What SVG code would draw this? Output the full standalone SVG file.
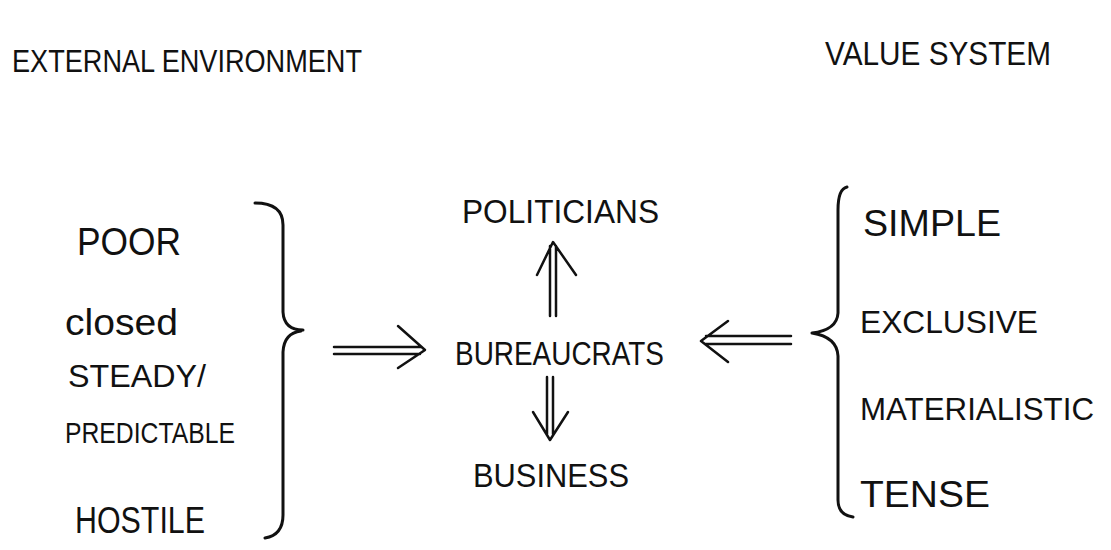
<svg xmlns="http://www.w3.org/2000/svg" width="1111" height="550" viewBox="0 0 1111 550">
  <style>
    .t { font-family: "Liberation Sans", "DejaVu Sans", sans-serif; fill: #111; }
    .br { fill: none; stroke: #111; stroke-width: 3; stroke-linecap: round; stroke-linejoin: round; }
    .ar { fill: none; stroke: #111; stroke-width: 2.5; stroke-linecap: round; stroke-linejoin: round; }
  </style>
  <rect width="1111" height="550" fill="#ffffff"/>

  <g id="title-env">
    <text class="t" x="12" y="72" font-size="32" textLength="350" lengthAdjust="spacingAndGlyphs">EXTERNAL ENVIRONMENT</text>
  </g>
  <g id="title-values">
    <text class="t" x="825" y="65" font-size="34" textLength="226" lengthAdjust="spacingAndGlyphs">VALUE SYSTEM</text>
  </g>

  <g id="env-list">
    <text class="t" x="77" y="255" font-size="38" textLength="104" lengthAdjust="spacingAndGlyphs">POOR</text>
    <text class="t" x="65" y="335" font-size="36" textLength="113" lengthAdjust="spacingAndGlyphs">closed</text>
    <text class="t" x="68" y="387" font-size="32" textLength="138" lengthAdjust="spacingAndGlyphs">STEADY/</text>
    <text class="t" x="65" y="443" font-size="30" textLength="170" lengthAdjust="spacingAndGlyphs">PREDICTABLE</text>
    <text class="t" x="75" y="533" font-size="36" textLength="130" lengthAdjust="spacingAndGlyphs">HOSTILE</text>
    <path class="br" d="M255,203 Q283,203 283,225 L283,312 Q284,330 303,330 M301,331 Q284,333 283,352 L283,515 Q283,535 265,538"/>
  </g>

  <g id="values-list">
    <text class="t" x="863" y="236" font-size="36" textLength="138" lengthAdjust="spacingAndGlyphs">SIMPLE</text>
    <text class="t" x="860" y="333" font-size="32" textLength="178" lengthAdjust="spacingAndGlyphs">EXCLUSIVE</text>
    <text class="t" x="860" y="420" font-size="31" textLength="234" lengthAdjust="spacingAndGlyphs">MATERIALISTIC</text>
    <text class="t" x="860" y="507" font-size="36" textLength="130" lengthAdjust="spacingAndGlyphs">TENSE</text>
    <path class="br" d="M847,187 Q838,189 838,210 L838,313 Q837,330 812,333 Q837,337 838,356 L838,500 Q838,515 853,517"/>
  </g>

  <g id="politicians">
    <text class="t" x="462" y="223" font-size="34" textLength="197" lengthAdjust="spacingAndGlyphs">POLITICIANS</text>
  </g>
  <g id="bureaucrats">
    <text class="t" x="455" y="365" font-size="34" textLength="209" lengthAdjust="spacingAndGlyphs">BUREAUCRATS</text>
  </g>
  <g id="business">
    <text class="t" x="473" y="487" font-size="34" textLength="156" lengthAdjust="spacingAndGlyphs">BUSINESS</text>
  </g>

  <g id="connectors">
    <path class="ar" d="M334,347 L420,347 M334,354 L420,354 M398,326 L425,350 L398,368"/>
    <path class="ar" d="M706,336 L791,336 M706,344 L791,344 M728,321 L701,341 L728,362"/>
    <path class="ar" d="M550,246 L550,316 M556,246 L556,316 M537,275 L553,242 L576,275"/>
    <path class="ar" d="M547,377 L547,434 M553,377 L553,434 M533,412 L550,440 L568,412"/>
  </g>
</svg>
